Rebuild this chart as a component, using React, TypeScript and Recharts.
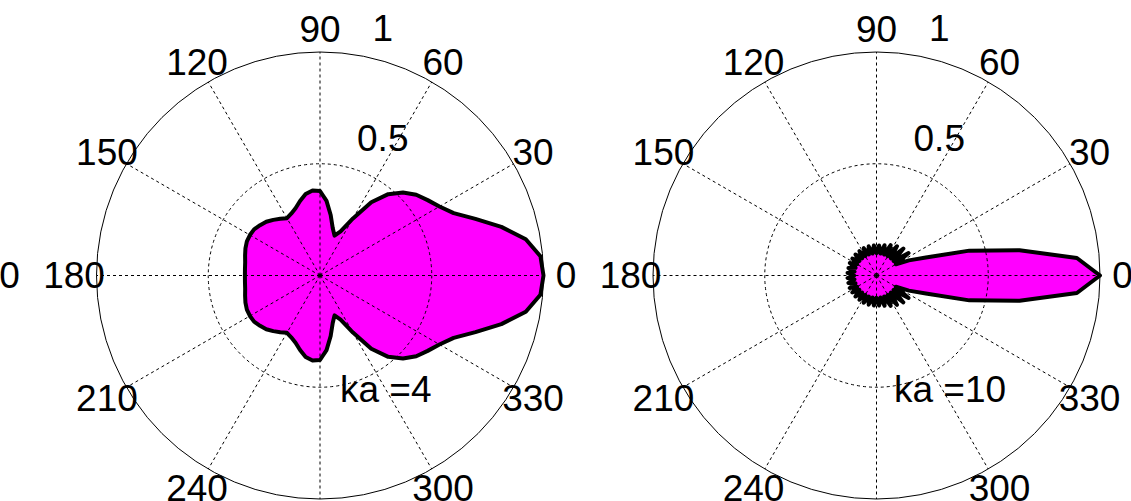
import React from 'react';
import { RadarChart, Radar, PolarGrid, PolarAngleAxis, PolarRadiusAxis } from 'recharts';

// Angle of each sample (degrees), one every 5 degrees
const angles = [
  0, 5, 10, 15, 20, 25, 30, 35, 40, 45, 50, 55, 60, 65, 70, 75, 80, 85,
  90, 95, 100, 105, 110, 115, 120, 125, 130, 135, 140, 145, 150, 155, 160, 165, 170, 175,
  180, 185, 190, 195, 200, 205, 210, 215, 220, 225, 230, 235, 240, 245, 250, 255, 260, 265,
  270, 275, 280, 285, 290, 295, 300, 305, 310, 315, 320, 325, 330, 335, 340, 345, 350, 355,
];

// Normalised pattern, ka = 4
const ka4 = [
  1.0, 0.99, 0.935, 0.84, 0.74, 0.66, 0.617, 0.588, 0.562, 0.525, 0.475, 0.4, 0.295, 0.218, 0.19, 0.22, 0.275, 0.335,
  0.378, 0.382, 0.37, 0.345, 0.32, 0.305, 0.296, 0.31, 0.325, 0.34, 0.35, 0.36, 0.362, 0.361, 0.355, 0.347, 0.34, 0.337,
  0.336, 0.337, 0.34, 0.347, 0.355, 0.361, 0.362, 0.36, 0.35, 0.34, 0.325, 0.31, 0.296, 0.305, 0.32, 0.345, 0.37, 0.382,
  0.378, 0.335, 0.275, 0.22, 0.19, 0.218, 0.295, 0.4, 0.475, 0.525, 0.562, 0.588, 0.617, 0.66, 0.74, 0.84, 0.935, 0.99,
];

// Normalised pattern, ka = 10
const ka10 = [
  1.0, 0.9, 0.65, 0.43, 0.235, 0.16, 0.1, 0.175, 0.1, 0.17, 0.1, 0.16, 0.1, 0.15, 0.1, 0.14, 0.1, 0.135,
  0.1, 0.135, 0.1, 0.135, 0.1, 0.135, 0.1, 0.133, 0.1, 0.133, 0.1, 0.132, 0.1, 0.132, 0.1, 0.13, 0.1, 0.13,
  0.1, 0.13, 0.1, 0.13, 0.1, 0.132, 0.1, 0.132, 0.1, 0.133, 0.1, 0.133, 0.1, 0.135, 0.1, 0.135, 0.1, 0.135,
  0.1, 0.135, 0.1, 0.14, 0.1, 0.15, 0.1, 0.16, 0.1, 0.17, 0.1, 0.175, 0.1, 0.16, 0.235, 0.43, 0.65, 0.9,
];

const gridAngles = [0, 30, 60, 90, 120, 150, 180, 210, 240, 270, 300, 330];
const radiusTicks = [0, 0.5, 1];

const W = 1131;
const H = 501;
const CY = 275.5;
const R = 223.5;
const FONT = '"Liberation Sans", Arial, Helvetica, sans-serif';
const FS = 37;

const AngleTick = (props: any) => {
  const { x, y, payload } = props;
  const v = payload.value;
  if (v % 30 !== 0 || v >= 360) return <g />;
  return (
    <text x={x} y={y} textAnchor="middle" dominantBaseline="central" fontFamily={FONT} fontSize={FS} fill="#000">
      {v}
    </text>
  );
};

const RadiusTick = (props: any) => {
  const { x, y, payload } = props;
  if (payload.value !== 0.5 && payload.value !== 1) return <g />;
  return (
    <text x={x + 21.5} y={y - 13.5} textAnchor="start" fontFamily={FONT} fontSize={FS} fill="#000">
      {payload.value}
    </text>
  );
};

const chartProps = (cx: number) => ({
  width: W,
  height: H,
  cx,
  cy: CY,
  outerRadius: R,
  startAngle: 0,
  endAngle: 360,
  margin: { top: 0, right: 0, bottom: 0, left: 0 },
});

const layer: React.CSSProperties = { position: 'absolute', left: 0, top: 0 };

const PolarPlot = ({ values, cx }: { values: number[]; cx: number }) => {
  const data = angles.map((a, i) => ({ angle: a, r: values[i] }));
  return (
    <>
      {/* pattern and radius labels */}
      <div style={layer}>
        <RadarChart {...chartProps(cx)} data={data}>
          <PolarAngleAxis dataKey="angle" type="number" domain={[0, 360]} tick={false} tickLine={false} axisLine={false} />
          <PolarRadiusAxis
            angle={82}
            type="number"
            domain={[0, 1]}
            ticks={radiusTicks as any}
            tickCount={5}
            allowDecimals
            axisLine={false}
            tickLine={false}
            tick={<RadiusTick />}
          />
          <Radar
            dataKey="r"
            stroke="#000"
            strokeWidth={4}
            strokeLinejoin="round"
            fill="#ff00ff"
            fillOpacity={1}
            dot={false}
            isAnimationActive={false}
          />
        </RadarChart>
      </div>
      {/* grid and angle labels drawn over the pattern */}
      <div style={layer}>
        <RadarChart {...chartProps(cx)} data={data}>
          <PolarGrid
            gridType="circle"
            polarAngles={gridAngles}
            polarRadius={[R * 0.5]}
            stroke="#000"
            strokeWidth={1}
            strokeDasharray="3 3"
          />
          <PolarGrid gridType="circle" radialLines={false} polarAngles={[]} polarRadius={[R]} stroke="#000" strokeWidth={1} />
          <PolarAngleAxis
            dataKey="angle"
            type="number"
            domain={[0, 360]}
            ticks={gridAngles as any}
            tick={<AngleTick />}
            tickLine={false}
            axisLine={false}
            tickSize={22.5}
          />
        </RadarChart>
      </div>
    </>
  );
};

export default function App() {
  return (
    <div style={{ position: 'absolute', left: 0, top: 0, width: W, height: H, background: '#fff', overflow: 'hidden' }}>
      <PolarPlot values={ka4} cx={320} />
      <PolarPlot values={ka10} cx={876.5} />
      <svg width={W} height={H} style={layer}>
        <text x={9.5} y={CY} textAnchor="middle" dominantBaseline="central" fontFamily={FONT} fontSize={FS}>0</text>
        <text x={340} y={401.5} fontFamily={FONT} fontSize={FS}>ka =4</text>
        <text x={894} y={401.5} fontFamily={FONT} fontSize={FS}>ka =10</text>
      </svg>
    </div>
  );
}
